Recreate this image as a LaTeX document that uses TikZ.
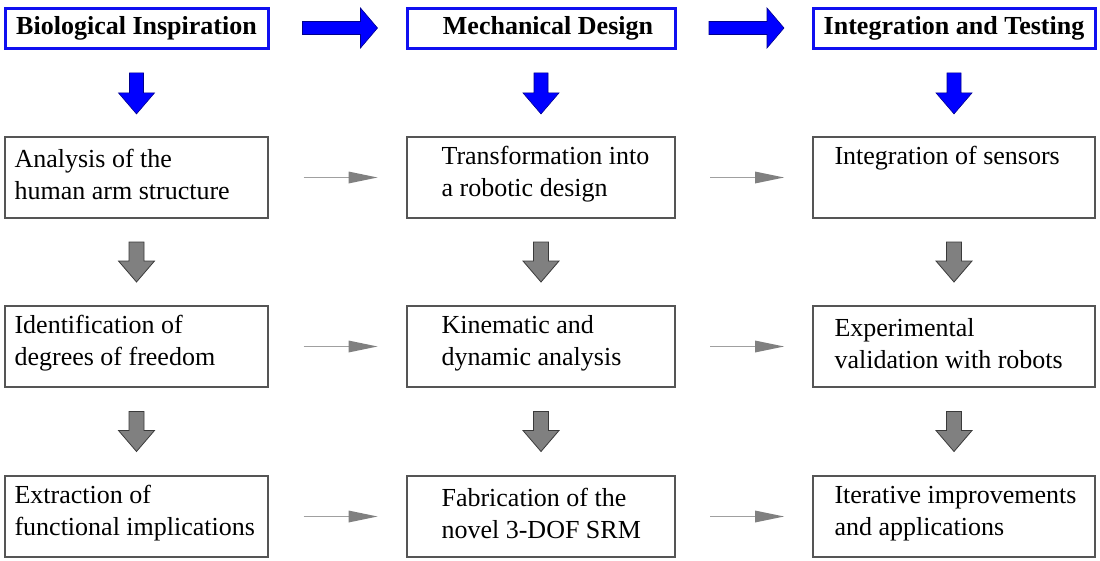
\documentclass[tikz,border=0pt]{standalone}
\usepackage{fontspec}
\setmainfont{Liberation Serif}
\usetikzlibrary{calc}
\definecolor{boxgray}{HTML}{555555}
\definecolor{arrgray}{HTML}{808080}
\definecolor{arredge}{HTML}{3A3A3A}
\definecolor{linegray}{HTML}{A0A0A0}
\definecolor{hdrblue}{HTML}{1010F0}
\begin{document}
\begin{tikzpicture}[x=1pt,y=-1pt,
  hdr/.style={draw=hdrblue, line width=3pt, fill=white, minimum height=40pt, inner sep=0pt,
    font=\fontsize{26}{32}\selectfont\bfseries},
  boxnode/.style={draw=boxgray, line width=1.3pt, inner sep=0pt, minimum height=81pt},
  txt/.style={anchor=west, align=left, inner sep=0pt, font=\fontsize{26}{32}\selectfont},
  bigdown/.pic={\filldraw[fill=blue, draw=blue!55!black, line width=0.6pt]
     (-7,-20) -- (7,-20) -- (7,0) -- (18,0) -- (0,21) -- (-18,0) -- (-7,0) -- cycle;},
  bigright/.pic={\filldraw[fill=blue, draw=blue!55!black, line width=0.6pt]
     (-38,-6.5) -- (20,-6.5) -- (20,-20) -- (37,0) -- (20,20) -- (20,6.5) -- (-38,6.5) -- cycle;},
  graydown/.pic={\filldraw[fill=arrgray, draw=arredge, line width=0.8pt]
     (-7.5,-20) -- (7.5,-20) -- (7.5,-1) -- (18,-1) -- (0,20) -- (-18,-1) -- (-7.5,-1) -- cycle;},
  thinright/.pic={\draw[linegray, line width=1.3pt] (-37,0) -- (9,0);
     \fill[arrgray] (8,-6) -- (37,0) -- (8,6) -- cycle;}
]
\useasboundingbox (0,0) rectangle (1100,560);

% headers
\node[hdr, minimum width=263pt] (h1) at (136.5,28) {Biological Inspiration};
\node[hdr, minimum width=268pt] (h2) at (541,28) {\hspace*{14pt}Mechanical Design};
\node[hdr, minimum width=282pt] (h3) at (954,28) {Integration and Testing};

% boxes
\node[boxnode, minimum width=263pt] (b11) at (136.5,177.5) {};
\node[boxnode, minimum width=263pt] (b21) at (136.5,346.5) {};
\node[boxnode, minimum width=263pt] (b31) at (136.5,516.5) {};
\node[boxnode, minimum width=268pt] (b12) at (541,177.5) {};
\node[boxnode, minimum width=268pt] (b22) at (541,346.5) {};
\node[boxnode, minimum width=268pt] (b32) at (541,516.5) {};
\node[boxnode, minimum width=282pt] (b13) at (954,177.5) {};
\node[boxnode, minimum width=282pt] (b23) at (954,346.5) {};
\node[boxnode, minimum width=282pt] (b33) at (954,516.5) {};

% texts
\node[txt] (t11) at ($(b11.west)+(10,-3)$) {Analysis of the\\human arm structure};
\node[txt] (t21) at ($(b21.west)+(10,-3)$) {Identification of\\degrees of freedom};
\node[txt] (t31) at ($(b31.west)+(10,-3)$) {Extraction of\\functional implications};
\node[txt] (t12) at ($(b12.west)+(35,-3)$) {Transformation into\\a robotic design};
\node[txt] (t22) at ($(b22.west)+(35,-3)$) {Kinematic and\\dynamic analysis};
\node[txt] (t32) at ($(b32.west)+(35,-3)$) {Fabrication of the\\novel 3-DOF SRM};
\node[txt] (t13) at ($(b13.west)+(22,-3)$) {Integration of sensors\\\phantom{Ag}};
\node[txt] (t23) at ($(b23.west)+(22,-3)$) {Experimental\\validation with robots};
\node[txt] (t33) at ($(b33.west)+(22,-3)$) {Iterative improvements\\and applications};

% header arrows
\pic at ($(h1.east)!0.5!(h2.west)+(3,0)$) {bigright};
\pic at ($(h2.east)!0.5!(h3.west)+(3,0)$) {bigright};
\pic at ($(h1.south)!0.5!(b11.north)$) {bigdown};
\pic at ($(h2.south)!0.5!(b12.north)$) {bigdown};
\pic at ($(h3.south)!0.5!(b13.north)$) {bigdown};

% vertical gray arrows
\foreach \c in {1,2,3}{
  \pic at ($(b1\c.south)!0.5!(b2\c.north)$) {graydown};
  \pic at ($(b2\c.south)!0.5!(b3\c.north)$) {graydown};
}
% horizontal thin arrows
\foreach \r in {1,2,3}{
  \pic at ($(b\r1.east)!0.5!(b\r2.west)+(3,0)$) {thinright};
  \pic at ($(b\r2.east)!0.5!(b\r3.west)+(3,0)$) {thinright};
}
\end{tikzpicture}
\end{document}
